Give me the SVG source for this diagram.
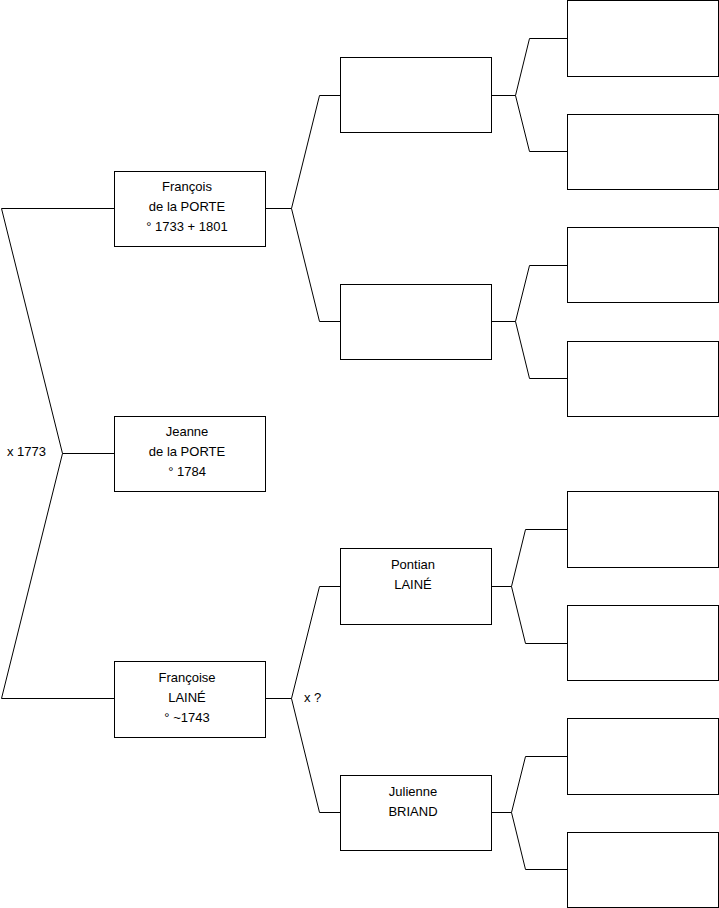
<svg xmlns="http://www.w3.org/2000/svg" width="719" height="908" viewBox="0 0 719 908">
<style>
.b{fill:#fff;stroke:#000;stroke-width:1}
.c{fill:none;stroke:#000;stroke-width:1}
text{font-family:"Liberation Sans",Arial,sans-serif;font-size:13px;fill:#000}
.m{text-anchor:middle}
</style>
<rect width="719" height="908" fill="#fff"/>
<g id="connectors">
<path class="c" d="M114.5,208.5H1.5L62.5,453.5L1.5,698.5H114.5M62.5,453.5H114.5"/>
<path class="c" d="M265.5,208.5H291.5M340.5,95.5H319.5L291.5,208.5L319.5,321.5H340.5"/>
<path class="c" d="M265.5,698.5H291.5M340.5,586.5H319.5L291.5,698.5L319.5,812.5H340.5"/>
<path class="c" d="M491.5,95.5H515.5M567.5,38.5H529.5L515.5,95.5L529.5,151.5H567.5"/>
<path class="c" d="M491.5,321.5H515.5M567.5,265.5H529.5L515.5,321.5L529.5,378.5H567.5"/>
<path class="c" d="M491.5,586.5H511.5M567.5,529.5H525.5L511.5,586.5L525.5,643.5H567.5"/>
<path class="c" d="M491.5,812.5H511.5M567.5,756.5H525.5L511.5,812.5L525.5,869.5H567.5"/>
<text x="7" y="456">x 1773</text>
<text x="304" y="702">x ?</text>
</g>
<g id="francois"><rect class="b" x="114.5" y="171.5" width="151" height="75"/>
<text class="m" x="187" y="191">François</text><text class="m" x="187" y="211">de la PORTE</text><text class="m" x="187" y="231">° 1733 + 1801</text></g>
<g id="jeanne"><rect class="b" x="114.5" y="416.5" width="151" height="75"/>
<text class="m" x="187" y="436">Jeanne</text><text class="m" x="187" y="456">de la PORTE</text><text class="m" x="187" y="476">° 1784</text></g>
<g id="francoise"><rect class="b" x="114.5" y="661.5" width="151" height="76"/>
<text class="m" x="187" y="682">Françoise</text><text class="m" x="187" y="702">LAINÉ</text><text class="m" x="187" y="722">° ~1743</text></g>
<g id="g2a"><rect class="b" x="340.5" y="57.5" width="151" height="75"/></g>
<g id="g2b"><rect class="b" x="340.5" y="284.5" width="151" height="75"/></g>
<g id="pontian"><rect class="b" x="340.5" y="548.5" width="151" height="76"/>
<text class="m" x="413" y="569">Pontian</text><text class="m" x="413" y="589">LAINÉ</text></g>
<g id="julienne"><rect class="b" x="340.5" y="775.5" width="151" height="75"/>
<text class="m" x="413" y="796">Julienne</text><text class="m" x="413" y="816">BRIAND</text></g>
<g id="g3a"><rect class="b" x="567.5" y="0.5" width="151" height="76"/></g>
<g id="g3b"><rect class="b" x="567.5" y="114.5" width="151" height="75"/></g>
<g id="g3c"><rect class="b" x="567.5" y="227.5" width="151" height="75"/></g>
<g id="g3d"><rect class="b" x="567.5" y="341.5" width="151" height="75"/></g>
<g id="g3e"><rect class="b" x="567.5" y="491.5" width="151" height="76"/></g>
<g id="g3f"><rect class="b" x="567.5" y="605.5" width="151" height="75"/></g>
<g id="g3g"><rect class="b" x="567.5" y="718.5" width="151" height="76"/></g>
<g id="g3h"><rect class="b" x="567.5" y="832.5" width="151" height="75"/></g>
</svg>
